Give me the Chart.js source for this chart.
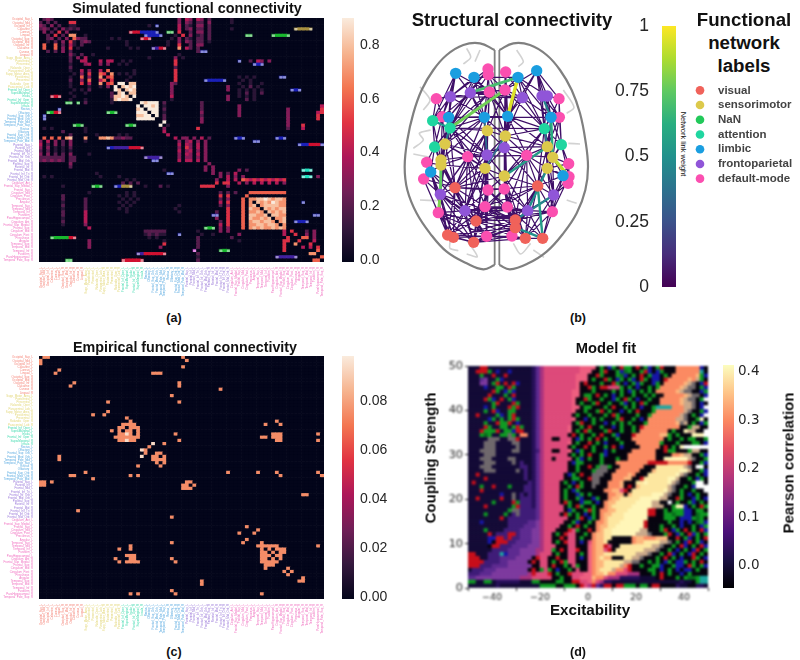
<!DOCTYPE html>
<html>
<head>
<meta charset="utf-8">
<title>Connectivity panels</title>
<script src="https://cdn.jsdelivr.net/npm/chart.js@4"></script>
<style>
    html, body { margin: 0; padding: 0; background: #fff; }
    #page { position: relative; width: 800px; height: 660px; overflow: hidden; font-family: "Liberation Sans", sans-serif; }
    canvas { position: absolute; }
    .soft { filter: blur(0.7px); }
    .softer { filter: blur(0.9px); }
    .lbl { position: absolute; white-space: nowrap; color: #111; transform-origin: center; line-height: 1; }
</style>
</head>
<body>
<div id="page"></div>
<script>
// Region names along both axes of the two matrices
const visualLabels = ['Occipital_Sup_L', 'Occipital_Mid_L', 'Occipital_Inf_L', 'Calcarine_L', 'Cuneus_L', 'Lingual_L', 'Occipital_Sup_R', 'Occipital_Mid_R', 'Occipital_Inf_R', 'Calcarine_R', 'Cuneus_R', 'Lingual_R'];
const motorLabels = ['Supp_Motor_Area_L', 'Postcentral_L', 'Precentral_L', 'Rolandic_Oper_L', 'Paracentral_Lob_L', 'Supp_Motor_Area_R', 'Postcentral_R', 'Precentral_R', 'Rolandic_Oper_R', 'Paracentral_Lob_R'];
const attentionLabels = ['Frontal_Inf_Oper_L', 'SupraMarginal_L', 'Insula_L', 'Frontal_Inf_Oper_R', 'SupraMarginal_R', 'Insula_R'];
const limbicLabels = ['Rectus_L', 'Olfactory_L', 'Frontal_Sup_Orb_L', 'Frontal_Med_Orb_L', 'Temporal_Pole_Mid_L', 'Temporal_Pole_Sup_L', 'Rectus_R', 'Olfactory_R', 'Frontal_Sup_Orb_R', 'Frontal_Med_Orb_R', 'Temporal_Pole_Mid_R'];
const parietalLabels = ['Parietal_Sup_L', 'Parietal_Inf_L', 'Frontal_Mid_L', 'Frontal_Inf_Tri_L', 'Frontal_Inf_Orb_L', 'Frontal_Mid_Orb_L', 'Parietal_Sup_R', 'Parietal_Inf_R', 'Frontal_Mid_R', 'Frontal_Inf_Tri_R', 'Frontal_Inf_Orb_R', 'Frontal_Mid_Orb_R'];
const defaultLabels = ['Cingulum_Ant_L', 'Frontal_Sup_Medial_L', 'Frontal_Sup_L', 'Cingulum_Mid_L', 'Cingulum_Post_L', 'Precuneus_L', 'Angular_L', 'Temporal_Sup_L', 'Temporal_Mid_L', 'Temporal_Inf_L', 'Fusiform_L', 'ParaHippocampal_L', 'Cingulum_Ant_R', 'Frontal_Sup_Medial_R', 'Frontal_Sup_R', 'Cingulum_Mid_R', 'Cingulum_Post_R', 'Precuneus_R', 'Angular_R', 'Temporal_Sup_R', 'Temporal_Mid_R', 'Temporal_Inf_R', 'Fusiform_R', 'ParaHippocampal_R', 'Temporal_Pole_Sup_R'];

const networkNames = ['visual', 'sensorimotor', 'NaN', 'attention', 'limbic', 'frontoparietal', 'default-mode'];
const networkColors = ['#f0625a', '#dcc94b', '#22c95a', '#1fd6a0', '#1a9ee0', '#9055d8', '#fb4fb0'];

// Simulated FC, one string per row. Digit = value / 10, letters are the colour smears
const simRows = [
".232...... .......... .......... .......3.4 3.43.2.... .1",
"2.2.2...55 .......... .......... .......3.3 2.22.3.... .1",
"32.3.2..11 .......... .........1 .b.....4.2 1.33.2",
"232.2.3121 2......... .......... .......4.2 3.22.2.... .1........ ........oo ooo",
".3.2.5.3.. .......... ....rrrbbb bb..gg.5.. 2.33.2",
"..2.5.2.77 ..1....... ........bb bbb...1.5. 3.12.2.... .....gg... ..ggggg",
"..23.2.3.6 322......1 .1.....rrr .....1.3.2 1.22.2",
"..1.2.3.51 .232...... ...1...... ....1..3.3 2.22.1",
".6..6.2.41 .2........ ...1...... ....1..5.. 2.33",
".6..6.3.5. 1.......1. ....1.1... pprr...7.4 2.2",
"..2.2.3.2. .......... .......... .......... ..2bb",
"........31 .2..1..... .......... .......1",
"........2. 3.4....... .........1 ......3.1",
"........2. .44...4.44 ..1.1..... ......5... .......... ...b..2.43 .3",
"........1. ..34..3.3. .1.1...... ......5... .......... .......bbb",
"........2. .......... .......... ......2...",
"........1. .4.3..4.6. .....1.... ......5...",
".........1 .3.5..65.7 .1.1.1.... ......5...",
"........1. .6.3..7.56 ....1..... ......5... .......... ...1.1.1.. ....bb",
"........2. .3.6..46.5 ...1...... ......5... ....bbbbbb ....1.1...",
"........1. .5.4..7.56 .99.88.... .....32... .......... ...1..1..1",
"........1. ...1..1.3. 9.8989.... .....3.... .......... 3...1.2.1.",
".........1 .1.2...... 98.898.... .....3.... .......... 3..1.1.1.1 .......bbb",
"........1. ..1......2 .89.88.... .....3.... .......... ...1.2.1.2",
"...rrr...1 .........2 8898.9.... .....4.... .......... 3..1.1.1..",
"........1. ..1......1 89889..... .....1.... .......... 3....2.1",
".......gg. g.2......1 .......989 99.2...... ...2",
".......... .......... ......9.99 89.1...... ...2...... ...3...... .......... .....4",
".....b.... .......... ......89.9 99.2...... ...2...... ...3...... ......3... .....5",
"..ggrr.... ........gg g.....999. 99.1...... ...3...... ...3...... ......3... ....45",
".b........ .......... ......8899 .9.2...... ...2...... ...3...... ......3... ....5.",
".b........ .......... ......9999 9..2...... ...3...... .......... ......3... ....5.",
".......... .......... .......... ...9...... ...3...... .......... ......3...",
".........g gg........ ...ggg.... ..9.1..... .......... .......... ......3... 5",
".1.1...... ..1....... .......... ...3...... ..5....... .......... ......2... 4",
"......2... ..1....... .......... ...4......",
"........2. .....1.... .1.1...... ....4.....",
".6.6.6.78. ..7...7787 22322..... ......4.33 .3.4.2.... ..bbb..... ...bbb....",
"3.4.3.2.3. ..1....... .......... .......3.3 4.3.3..... .......bb.",
"4.2.3.2.3. .......... .......... .......4.4 3.4.3..... .......... .........b bbrrrb",
"3.3.1.1.2. ........bb pppprrrr.. .......3.5 3.4.3",
"2.2.1.1.1. .......... .......... .......4.3 4.3.3",
"3.3.2.2.3. ...1...... .......... .......3.4 3.4.3",
"2222222.22 .......... ........pp ppp....3.3 3.3.3",
"2323232.22 .......... .......... bb.....4.4 4.4.3",
"........3. .......... .......... .......... .....3....",
"........2. .......... .......... .......... ....3.3...",
".......... .......... .......... ...1...... ....3.3... ...3.2.... .......... ttt",
".......... .....1.... .......... ....bb.... ......3.3. 2.4.......",
".1.1...... ......1... .1........ .......... ........3. 4.3.3..... .......... ttt.3",
".......... .......... ...1.1.... .......... .......3.. 4.4.654545 454545....",
".......... .......... ..2.2.2... .......... .......5.5 5..4.3.4.4 .4.4.3",
"......1... ....ggg... bbooo...1. ..2.1..... ...5555... 3.........",
".......... .......... .......... .......... .......... ..........",
".......... ...1...... ...1.1.... .......... ........2. 2.2...6666 666666",
"......2... .......... .1.1.1.... .......... ........5. 5....6....",
"......2... ..2....... ..1.1.1... .......... ........2. 3...6.7788 987887",
"......1... ..2....... .1.1.1.... .......... ........4. 5...6.7.87 879877.... b",
"......2... ..2....... ..1.1..... .......1.. ........2. 3...6.78.7 888877",
"......1... ..2....... .1.1...... ......1... .......... 5...6.877. 878788",
"......2... ..4....... ...1...... .......1.. .......2.. 5...6.7787 .87878",
"......2... ..4....... .......... .......... ......bb.. 5...6.8877 8.8877.... ...bb",
"......1... ..4....... .......... .......... .......3.. 5...6.8778 78.778",
"......2... ..4....... .......... .......... ........2. 5...6.7887 887.78..bb bb",
"......1... ..3....... .......... .......... ........4. 5...6.7788 7887.7",
".......... ...4...... .......... .......... ....ggg.3. 3...6.7878 778787",
".......... .......... ........22 2222...... ..1.....3. 3......... .....4.5.. .2.3",
".......... .......... ........12 1211...b.. ...1..1... ...3...... .....4..5. .3.3",
"...gggggrr .......... .........1 .1........ ..2....... .2........ ......5... 66.3",
".......... ...3...... .......... ...1...... ..2....... ...1...... .....55..5 ...4",
".......... ...3...... .......... ...5...... ..2....... .......... .....5..7. ..5",
".......... ...3...... .......... ..3....... ..2....... .......... .....5.... 4.4.5",
".......... .......... .......... .......... .m......gg g......... .....5.... ....6.",
".......... .......... ......pprr rrrr...... ..2....... .......... .......... ..77..",
".......... .......... .......... .......... ..1....... .......... ...pppppp. .....6",
".......gg. .......... ..rrrrrr.. .......... ..2....... .......... .......... ...66."
];

// Empirical FC: the few cells above threshold, [row, [columns]]
const empHits = [
    [0, [1, 2, 38]], [1, [0, 39]], [2, [0]], [3, [38]], [4, [5]], [5, [4, 30, 31, 32]], [8, [9, 37]], [9, [8, 37]],
    [10, [48]], [12, [35]], [14, [18, 37]], [17, [18]], [18, [14, 17]], [19, [23]], [20, [24, 63]],
    [21, [22, 23, 24, 25, 60, 64]], [22, [21, 22, 24, 25, 26]], [23, [19, 21, 23, 24, 26]],
    [24, [21, 22, 24, 26, 36, 62, 63, 64, 74]], [25, [20, 21, 22, 23, 24, 25, 26, 59, 60, 62, 63, 64]],
    [26, [21, 22, 24, 25, 37, 63, 64, 74]], [27, [30, 33]], [28, [29]], [29, [27, 28]], [30, [28, 31, 32]],
    [31, [5, 27, 30, 31, 33]], [32, [5, 30, 31, 32, 33]], [33, [31, 33]], [34, [26, 32]], [36, [12, 50, 58, 63, 74]],
    [37, [8, 9, 24, 26, 64, 75]], [38, [14]], [39, [0, 1, 3, 39, 40]], [40, [0, 1, 38, 39, 41]], [41, [38, 39, 40]],
    [43, [70, 71]], [48, [10]], [50, [35]], [53, [55]], [54, [58]], [55, [53, 57]], [57, [55]], [58, [35, 54, 59]],
    [59, [24, 58, 59, 60, 61, 62, 63, 74]], [60, [21, 24, 59, 61, 63, 64, 65]], [61, [59, 60, 62, 64, 65]],
    [62, [23, 24, 25, 59, 60, 61, 63, 64]], [63, [20, 24, 25, 35, 59, 60, 62, 64]], [64, [21, 23, 24, 25, 26, 36, 59, 60, 61, 62, 63]],
    [65, [60, 61, 62]], [66, [60, 66]], [67, [65, 67]], [68, [66]], [69, [70]], [70, [43, 69, 70]], [71, [43]],
    [73, [35]], [74, [24, 26, 36, 59]]
];
const empCreamCells = [[27, 30], [29, 27], [31, 27], [26, 23], [24, 23]];
const empValue = 0.075;
const empCreamValue = 0.094;

// Model fit grid, top row is coupling 50, 60 columns over excitability -50..50
const fitRows = [
"nnnrrnnnnn nnnnnnvpMh hhhhhhhhHH HHkgkbgkrg gkrkgbkgrk kkoooooobk",
"nnrrrgnbnn bnnnnnvpMh hhhhhhhhHH HkkgrkkgbG gkkgrbkbgk kkooooootk",
"nnngnnrnnr nnnnnnvpMh hhhhhhhHHH kkrgkkkgGb kgkrkgbbkg koooooolgb",
"nnnpPnngbn nnnnnnvpMh hhhhhhhHHH kgkkrgkbgk gbkrgkbbkr oooooloegk",
"nnnPPngrnr nrbnnnvpMh hhhhhhhHkr kkkgkkrgkb kgbgkkbgko ooooleakbr",
"nnnnbnnggn rgnnnnvpMh hhhhhhhHkk rgkrrhhhgk gkbkkgkgoo oooleaakgb",
"nnnnnnrgnb gbnnnnvpMh hhhhhhHHkk kgkkkkgkgk bgkgkgkooo ooleaakkbg",
"nnnnnrnnng nrnnnnvpMh hhhhhhHHkg gkrkgkbkgk kgkkgkgkko ooooleaakb",
"nnnnrgbnrn gbnnnnvpMh hhhhhhHkkr gkkgkkbgkr gkbkkgkkoo oooleaakgw",
"nnnnnngrnn nrgnnnvpMh hhhhhhHkgk kgrkkgkkgb kgkrgkkkoo oooleeakbk",
"nnnnbngnnn rgrnnnvpMh hhhhhhHHkg gkkkgkrkkg kgkbkkgttt toooeeakbw",
"nnnngnrbnn ggnnnnvpMh hhhhhhHkkg kkgrkgkkbk gkrkkkgooo ooooeakkgb",
"nnrnnnngbn grnnnnvpMh hhhhhhkgkk gkkkgkrgkk kkgkkgoooo oooeakgkbw",
"nnnnnbgngn grgnnnvpMh hhhhhhHkkb kgkgkkkgrk kgkbkooooo ooeeakkgyk",
"nnnngnnrgg rnbnnnvpMh hhhhhhkgrk kgkkbkgkgk gkkkgooooo oolaekgkbg",
"nnnnrgnngg ngrgnnvpMh hhhhhHkkgk rkkgkkbkgk kgkroooooo oookkgeekk",
"nnnrgggrng gbrrnnvpMh hhhhhHkgkr gkkkgrkkgk kgkooooooo kgkkyeekkw",
"nnngGgnngg agnoonvpMh hhhhhkrkgk kgkrkkgbkk krooooooll gkgkkkyyyw",
"nnnnnaaann aarnnnvpMh hkkhhhkbgk gkrkgkkgkk kooooooook gkkgkggkkg",
"nnnnaaannn naannnvpMh hhhhhHkgkk rkgkbkkkgk kkoooooogk kkgkkkggkb",
"nnnnaaannn nnannnvpMh hhhhhkgkkr kgkkgkrkbk kkkoooookr kgkywwwwww",
"nnnaaaannn naannnvqMh hkkhhHkbgk kgkkbkgkkk kooooookkr ggkkkgeekk",
"nnnnaaannn nnnnnnvpMh hhhhhkgkgk rkkgbkkkkk oooooookkk kooleekkgb",
"nnnaaannnn aannnnvpMh hkhhhhkgbk gkkgkkkgkk oooooookky yyyyyeakkg",
"nnnnaaannn nanqnnvpMh hhhhhkbggk kkkgkkkooo ooooorrrrr ooooorkkgb",
"nnnaaannnn nnnqqnvpMh hhhhhkkgkk rkgaagkkoo ooookkkccc cccceakwwk",
"nnnnaaannn nnanqnvpMh hhhhhkkgkk kgaaakkooo oookkklccc cccyyekkgb",
"nnrnnnnnnn nnnnqnvpMh hhhhkbgkrk kaaakkoooo lokkkccccc ccyeakkgkb",
"nnnnrnnnnn nnnnqnvpMh hhhhkkggkk raakkkoool lkkrcccccc yyekkgkbgk",
"nrnnnnnnnn nnnnnqvpMh hhhkgkbkgk kaakkooolk kkccyccccc yeakkkgwwk",
"nnngnnrnnn gnnnqqvpMh hhhkkgkrgk kakkkooolk rklccccccc eakkgkbwww",
"nnnrnnnnnn nnnnqqvpMh hhhkgkbgkk kkkkoollhr kccccccccy eakgkkgkkw",
"nnnnnnnnbn nanqnqvpMh hhhkgkkbgk gkkkkoollk lcccccyyye akkgkbkgkk",
"nnrnnnnnrn nanqqqvpMh hhhkgkkgbk kbgkkollcc cccyyyyyee kkrgkkbgkb",
"nnnnnngnnn nrgqqqvpMh hhhkrgkkbg gkbkollccc ccyyyyeekk wkgkkgbkgk",
"nnnnrnnnnn ngrqqqvpMh hhhhkgkrgk kgkkolcccc cyyyyyeeek kgyybkgkrg",
"nnnnnnnnnn gaaqqqqpMh hhhhkbgkkg rgkoollccc yyyyyrrkkg kgggbbkggk",
"nnnngnnnng nqaqqqqpMh hhhkrgkgkb kgkollcccy yyyyyrrkkg gGggbbkGgg",
"nnnnnnnnrn qqqqqqqpMh hhhhhkkgrk bgkolccccy yyyyykkkkg ggkbbbgGgk",
"nnnbnnnnnn qqqqqppPMh hhhhkkgbkk gkoolcccyy yyyyrkkkkk gkkbkbkGgb",
"nnnnnnnnnn qqqqpppPMh hhhkkgkrkg kkollccyyy yyyyrkkkgk kgkbkkgkbg",
"nnnngnnnnq qqqpppPPMh hhkkkrhgkk rkolccyyyy yyyeekkkgr kbgkrkgkrb",
"nnnnnrnqqq rrqpppPPMh hkgkrhhkkg kollccyyyy yyeeeakkkg rkbgkrbgkg",
"nnnnnbbrrq rqqpppPPMh hkkrkhhkgk kollcckkkk kollooolll kkrkgbkgkr",
"nnnnnbkrrr qqppppPPMh hkgkrhhkbk hollckkkkk kollccccee akgkbrkgbk",
"nnnnnkrrqq qppppPPPMh hhkkkhhkkk Hollrhkkcc cccccceeak kgkrbkgkrb",
"nnnnnnqqqq pppPPPPMMh hgkrkhhrkk Hollhrkccc cccceeeakk gkbkgkbrkg",
"rrnnnqqqtb pppPPPPMhh hkgkkhhkgk Hollcccccc cceeeakkgk rbkgkbrkgk",
"rrrnnqqqpp ppPPPPkrhh kkrkkhhkbk Holcllkkkc ceeakkkgkr kgkbkkrgkb",
"rrrrqqqqpp PPPPPkrkhh kgkrghhkkk Hollccccce eaakkgkgkb gkbbgkgkrk",
"rrrqqqpppp PPPPPPkkhh krkkgkhgkk Hollcccceo rkkgkkggbk kgbbkrgkgb",
"nqqqpppPPP PPPPPkrkgh gkbkkgkhkk Holccceooh rkkkkggkbk gkbkbbkgkk",
"qqqpppPPPP PPPPPMrhhh rkgkkrhhhH Hollcoohhh MMMkkkgkrk gkkbkgkkkk",
"ppPPPPPPPP PPPMMMhhhh hkkgkkhhHH HloohMMMvv vvvnnnnkrk kkgkgGGgtt",
"ggnnggnvvv vvvnnnggkk kkggkkrrhh HohMvvnnnn nnnnnnnnnn nnnvnnkgtt",
"nnnnnnnvnn nnnnnnnngg ggkkgggkrh Mrpvrrkrrg ggkggkrrkk kkvnnkkvvn"
];
const fitXTicks = [-40, -20, 0, 20, 40];
const fitYTicks = [0, 10, 20, 30, 40, 50];

// Brain nodes, in the panel's own units (x 0..600, y 0..900)
const visualNodes = [[165, 563], [413, 558], [228, 663], [346, 660], [346, 683], [143, 705], [160, 712], [221, 727], [376, 715], [428, 715]];
const motorNodes = [[135, 432], [262, 392], [316, 408], [123, 480], [123, 495], [255, 505], [313, 528], [442, 440], [458, 472], [442, 505]];
const attentionNodes = [[98, 362], [150, 384], [104, 441], [433, 386], [484, 434]];
const limbicNodes = [[167, 220], [222, 232], [354, 232], [410, 212], [146, 352], [253, 352], [323, 349], [453, 352], [92, 516], [489, 527]];
const parietalNodes = [[151, 290], [211, 278], [367, 293], [426, 288], [442, 288], [261, 465], [313, 443], [121, 583], [461, 585], [195, 632], [383, 632]];
const defaultNodes = [[264, 207], [265, 224], [317, 216], [268, 276], [315, 270], [109, 296], [477, 296], [127, 350], [478, 352], [203, 470], [380, 466], [80, 487], [506, 491], [71, 537], [507, 530], [504, 550], [264, 570], [313, 567], [255, 620], [322, 621], [115, 638], [457, 635], [260, 709], [336, 708]];

// Weak links as node index pairs (indexes run through the node lists above in order)
const weakEdges = [
    [25,35],[25,36],[25,29],[25,49],[26,36],[26,49],[26,30],[26,35],[26,21],[46,36],[46,35],[47,49],[47,50],[48,50],[48,37],[48,31],[27,37],[27,50],[27,31],[27,32],[27,39],[28,38],[28,37],[28,32],[28,50],[28,31],
    [35,21],[35,29],[35,53],[35,30],[35,51],[36,30],[36,21],[36,49],[36,11],[49,30],[49,31],[49,11],[49,50],[50,31],[50,12],[50,37],[37,31],[37,23],[37,12],[37,32],[38,32],[38,23],[39,54],[39,23],[39,52],[52,24],[52,32],
    [21,10],[21,11],[21,55],[21,13],[21,40],[29,10],[29,55],[29,30],[53,10],[20,22],[20,13],[22,10],[22,13],[10,55],[10,15],[10,0],[10,42],[11,40],[11,55],[11,15],[30,40],[30,55],[30,15],[30,21],[13,0],[13,42],[14,33],[14,42],[14,0],[33,42],[33,0],[33,59],[57,33],[59,42],[59,66],[57,14],[42,66],[42,0],[42,44],[42,5],[42,6],[66,5],[66,6],[66,44],[66,2],
    [0,44],[0,2],[0,15],[0,5],[0,6],[0,62],[55,0],[55,44],[55,62],[55,42],[40,62],[40,64],[40,15],[15,62],[15,64],[15,44],[15,2],[62,64],[62,2],[62,44],[64,2],[64,44],[64,68],[64,7],[44,2],[44,5],[44,6],[44,7],[44,68],[2,7],[2,68],[2,5],[68,7],[5,7],[6,7],
    [12,41],[12,56],[12,16],[12,63],[31,41],[31,56],[31,23],[31,17],[41,16],[41,56],[41,63],[23,17],[23,56],[23,19],[23,24],[32,17],[32,23],[32,24],[54,24],[17,18],[17,19],[17,56],[18,19],[18,58],[18,34],[19,1],[19,34],[19,60],[19,43],[24,58],[24,18],[58,60],[58,34],[34,61],[34,43],[60,43],[56,1],[56,16],[56,45],[56,63],[16,63],[16,45],[16,1],[16,65],[63,65],[63,45],[65,45],[65,3],[65,69],[1,45],[1,43],[1,67],[1,8],[1,9],[1,3],[43,67],[43,9],[43,45],[67,9],[67,8],[67,45],[45,3],[45,4],[45,8],[45,9],[3,4],[3,8],[3,69],[4,69],[4,8],[69,8],[8,9],
    [62,63],[64,65],[68,69],[2,3],[2,4],[7,69],[40,41],[15,16],[11,12],[30,31],[49,12],[50,11],[35,37],[36,37],[26,27],[55,56],[21,23],[29,32],[7,4],[64,4],[65,2],[44,3],[62,16],[63,15],[11,41],[12,40],
    [25,53],[25,20],[46,29],[47,30],[47,21],[36,53],[36,29],[49,21],[49,10],[49,40],[30,10],[30,13],[30,0],[30,62],[11,0],[11,62],[11,42],[11,44],[21,15],[21,0],[21,42],[21,62],[29,13],[29,40],[53,13],[53,22],[51,20],[51,53],[51,35],[35,20],[20,29],[20,21],[22,21],[22,33],[22,14],[10,13],[10,14],[10,40],[13,55],[14,55],[14,15],[33,0],[57,22],[59,33],[59,0],[13,44],[14,44],[33,44],[33,5],[33,6],[59,5],[42,2],[42,7],[42,68],[66,7],[66,68],[0,7],[0,68],[0,64],[55,15],[55,2],[55,64],[40,55],[40,0],[40,44],[40,2],[15,7],[15,68],[62,7],[62,68],[64,5],[44,62],[5,68],[6,68],
    [27,12],[27,23],[27,41],[28,23],[28,39],[28,52],[48,12],[50,41],[50,23],[31,12],[31,16],[31,63],[12,17],[12,23],[12,65],[41,17],[41,65],[41,1],[23,18],[23,16],[23,1],[32,18],[32,19],[32,56],[54,17],[54,18],[52,54],[38,54],[39,32],[17,16],[17,1],[17,43],[18,1],[18,43],[18,56],[19,56],[19,45],[19,67],[24,19],[24,60],[58,19],[34,1],[34,67],[60,67],[61,43],[56,65],[56,3],[56,43],[16,3],[16,69],[16,8],[63,3],[63,8],[63,69],[65,8],[65,4],[65,9],[1,4],[1,69],[43,8],[43,3],[67,3],[45,69],
    [29,31],[30,12],[11,50],[35,50],[36,50],[26,31],[47,31],[55,41],[40,12],[40,16],[15,63],[15,41],[0,63],[0,16],[2,65],[44,65],[44,45],[7,3],[7,8],[68,4],[68,3],[68,8],[64,3],[62,65],[63,64],[5,4],[6,3],[2,69],[64,69],[62,3],[63,2],[42,3],[1,2],[1,64],[1,62],[45,64],[45,2],[67,2]
];
// Strong links: from, to, weight
const strongEdges = [
    [21,50,0.78],[36,27,0.7],[31,27,0.95],[32,18,0.62],[18,60,0.9],[1,9,0.55],[16,17,0.55],[45,19,0.5],[3,43,0.45],[14,42,0.75],[42,66,0.8],[4,9,0.5],[38,32,0.45],[20,21,0.5],[30,40,0.35],[15,12,0.35],[10,21,0.4],[23,17,0.4]
];

// Brain outline and sulci polylines
const brainLeft = [[284,150],[240,130],[190,135],[140,165],[100,210],[65,270],[40,340],[22,420],[14,500],[22,570],[50,640],[90,700],[140,755],[200,790],[250,808],[284,795]];
const brainRight = [[298,150],[340,130],[390,135],[440,165],[480,210],[515,270],[540,340],[556,420],[564,500],[556,570],[530,640],[490,700],[440,755],[385,790],[330,808],[298,795]];
const brainMidline = [[284,150],[284,795],null,[298,150],[298,795]];
const sulci = [
    [200,145],[212,172],[190,192],null,[240,150],[225,185],null,[350,150],[370,185],[355,200],null,[40,445],[70,420],[58,400],[92,390],null,[40,462],[92,472],null,
    [505,430],[540,432],null,[490,270],[522,322],[500,340],null,[60,600],[110,602],null,[150,725],[150,745],[175,752],null,[200,720],[232,770],[200,762],null,
    [340,730],[362,762],[392,730],null,[400,750],[432,772],null,[60,260],[90,300],[70,330],null,[500,600],[530,610]
];

// Colour ramps used by the heatmaps and colour bars
const rocketStops = ['#03051a', '#35193e', '#701f57', '#ad1759', '#e13342', '#f37651', '#f6b48f', '#faebdd'];
const magmaStops = ['#000004', '#1a1042', '#4a1079', '#7e2482', '#b5367a', '#e55064', '#fb8861', '#fec488', '#fcfdbf'];
const viridisStops = ['#440154', '#472d7b', '#3b528b', '#2c728e', '#21918c', '#28ae80', '#5ec962', '#addc30', '#fde725'];

const smearColors = { g: '#18b82e', b: '#1a20b8', r: '#d01030', t: '#20e0c0', o: '#a89040', m: '#d020d0', p: '#4020a0' };
const fitColors = {
    k: '#06040f', n: '#130a36', v: '#27105a', q: '#3f1c78', p: '#5d2a90', P: '#7d3a9e', M: '#a8327f', h: '#dd4a7a', H: '#ee5f80',
    o: '#fb8a62', l: '#fdb67c', c: '#fde7a0', y: '#fff6b8', e: '#c9a88a', a: '#6f686c', w: '#ffffff',
    g: '#0e9a22', G: '#086a1c', b: '#1616a8', r: '#c80e1a', t: '#1fa6a0'
};

const labelColors = [['#f58478', 12], ['#e3d77a', 10], ['#3fd9ae', 6], ['#5aaae0', 11], ['#9a78d8', 12], ['#f070c0', 25]];
const regionLabels = [].concat(visualLabels, motorLabels, attentionLabels, limbicLabels, parietalLabels, defaultLabels);
const regionColors = [];
labelColors.forEach(([color, count]) => { for (let i = 0; i < count; i++) regionColors.push(color); });

const page = document.getElementById('page');
const BASE_FONT = '"Liberation Sans", sans-serif';

// Interpolate a colour out of a list of equally spaced stops
function rampColor(stops, t) {
    const clamped = Math.min(1, Math.max(0, t)) * (stops.length - 1);
    const i = Math.min(stops.length - 2, Math.floor(clamped));
    const f = clamped - i;
    const a = parseInt(stops[i].slice(1), 16);
    const b = parseInt(stops[i + 1].slice(1), 16);
    const mix = shift => Math.round(((a >> shift) & 255) * (1 - f) + ((b >> shift) & 255) * f);
    return `rgb(${mix(16)},${mix(8)},${mix(0)})`;
}

function addCanvas(left, top, width, height, softClass) {
    const canvas = document.createElement('canvas');
    canvas.width = width;
    canvas.height = height;
    canvas.style.cssText = `left:${left}px;top:${top}px;width:${width}px;height:${height}px`;
    if (softClass) canvas.className = softClass;
    page.appendChild(canvas);
    return canvas;
}

// Loose text placed by its centre
function addLabel(text, cx, cy, font, rotate) {
    const el = document.createElement('div');
    el.className = 'lbl';
    el.textContent = text;
    el.style.left = cx + 'px';
    el.style.top = cy + 'px';
    el.style.font = font;
    el.style.transform = `translate(-50%, -50%) rotate(${rotate || 0}deg)`;
    page.appendChild(el);
}

// Axis box of a fixed size, without the extra room Chart.js keeps for end labels
function fixAxis(scale, size) {
    if (scale.isHorizontal()) scale.height = size;
    else scale.width = size;
    scale.paddingTop = scale.paddingBottom = scale.paddingLeft = scale.paddingRight = 0;
}

const baseOptions = {
    responsive: false,
    animation: false,
    events: [],
    plugins: { legend: { display: false }, tooltip: { enabled: false } }
};

// Matrix heatmap: every cell is a floating bar on a reversed row axis
function drawMatrix(top, plotHeight, colorOf) {
    const n = regionLabels.length;
    const cells = [];
    const colors = [];
    for (let r = 0; r < n; r++) {
        for (let c = 0; c < n; c++) {
            cells.push({ x: c + 0.5, y: [r, r + 1] });
            colors.push(colorOf(r, c));
        }
    }
    const regionTicks = scale => { scale.ticks = regionLabels.map((_, i) => ({ value: i + 0.5 })); };
    const tickText = value => regionLabels[Math.floor(value)];
    const tickColor = ctx => regionColors[ctx.index];
    new Chart(addCanvas(0, top, 330, 18 + plotHeight + 43, 'soft'), {
        type: 'bar',
        data: { datasets: [{ data: cells, backgroundColor: colors, barThickness: 285 / n }] },
        options: {
            ...baseOptions,
            layout: { autoPadding: false, padding: { top: 18, right: 6 } },
            scales: {
                x: {
                    type: 'linear', min: 0, max: n, offset: false,
                    grid: { display: false, drawTicks: false }, border: { display: false },
                    afterBuildTicks: regionTicks,
                    afterFit: s => fixAxis(s, 43),
                    ticks: { autoSkip: false, minRotation: 90, maxRotation: 90, padding: 5, font: { size: 2.9, family: BASE_FONT }, color: tickColor, callback: tickText }
                },
                y: {
                    type: 'linear', min: 0, max: n, reverse: true,
                    grid: { display: false, drawTicks: false }, border: { display: false },
                    afterBuildTicks: regionTicks,
                    afterFit: s => fixAxis(s, 39),
                    ticks: { autoSkip: false, padding: 6, font: { size: 2.9, family: BASE_FONT }, color: tickColor, callback: tickText }
                }
            }
        }
    });
}

// Colour bar: one floating bar filled with the ramp, its axis carries the tick labels
function drawColorBar(box, min, max, tickValues, format, stops, font, side) {
    const canvas = addCanvas(box.left, box.top, box.width, box.height);
    new Chart(canvas, {
        type: 'bar',
        data: {
            datasets: [{
                data: [{ x: 0.5, y: [min, max] }],
                barThickness: box.barWidth,
                inflateAmount: 0,
                backgroundColor: ctx => {
                    const area = ctx.chart.chartArea;
                    if (!area) return '#000';
                    const grad = ctx.chart.ctx.createLinearGradient(0, area.bottom, 0, area.top);
                    stops.forEach((color, i) => grad.addColorStop(i / (stops.length - 1), color));
                    return grad;
                }
            }]
        },
        options: {
            ...baseOptions,
            layout: { autoPadding: false, padding: box.padding },
            scales: {
                x: { type: 'linear', min: 0, max: 1, offset: false, display: false },
                y: {
                    type: 'linear', min, max, position: side,
                    grid: { display: false, drawTicks: false }, border: { display: false },
                    afterBuildTicks: s => { s.ticks = tickValues.map(value => ({ value })); },
                    afterFit: s => fixAxis(s, box.axisWidth),
                    ticks: { autoSkip: false, padding: box.tickPad, font, color: '#262626', callback: format }
                }
            }
        }
    });
}

// Panel (a): a smear fades out at its two ends, where the next cell is no smear
const SIM_MAX = 0.9;
const simGrid = simRows.map(row => row.replace(/ /g, ''));
const isSmear = (r, c) => Boolean(smearColors[(simGrid[r] || '').charAt(c)]);
drawMatrix(0, 244, (r, c) => {
    const ch = simGrid[r].charAt(c) || '.';
    if (smearColors[ch]) {
        const tip = !isSmear(r, c - 1) || !isSmear(r, c + 1);
        return tip ? smearColors[ch] + '80' : smearColors[ch];
    }
    return rampColor(rocketStops, ch === '.' ? 0 : Number(ch) / 10 / SIM_MAX);
});

// Panel (c)
const EMP_MAX = 0.098;
const empGrid = {};
empHits.forEach(([r, cols]) => cols.forEach(c => { empGrid[r + '_' + c] = empValue; }));
empCreamCells.forEach(([r, c]) => { empGrid[r + '_' + c] = empCreamValue; });
drawMatrix(338, 243, (r, c) => rampColor(rocketStops, (empGrid[r + '_' + c] || 0) / EMP_MAX));

// Colour bars of (a), (c), (b) and (d)
drawColorBar({ left: 342, top: 8, width: 58, height: 264, barWidth: 12, axisWidth: 46, tickPad: 6, padding: { top: 10, bottom: 10 } },
    -0.0075, 0.9, [0, 0.2, 0.4, 0.6, 0.8], v => v.toFixed(1), rocketStops, { size: 14, family: BASE_FONT }, 'right');
drawColorBar({ left: 342, top: 346, width: 58, height: 263, barWidth: 12, axisWidth: 46, tickPad: 6, padding: { top: 10, bottom: 10 } },
    -0.0008, 0.0984, [0, 0.02, 0.04, 0.06, 0.08], v => v.toFixed(2), rocketStops, { size: 14, family: BASE_FONT }, 'right');
drawColorBar({ left: 600, top: 14, width: 76, height: 285, barWidth: 14, axisWidth: 62, tickPad: 13, padding: { top: 12, bottom: 12 } },
    0, 1, [0, 0.25, 0.5, 0.75, 1], v => String(v), viridisStops, { size: 17.5, family: BASE_FONT }, 'left');
drawColorBar({ left: 723, top: 355, width: 60, height: 243, barWidth: 11, axisWidth: 49, tickPad: 4, padding: { top: 10, bottom: 10 } },
    -0.0454, 0.4144, [0, 0.1, 0.2, 0.3, 0.4], v => v.toFixed(1), magmaStops, { size: 13.5, family: '"DejaVu Sans", sans-serif' }, 'right');

// Panel (b): brain drawn on a scatter chart
const nodeGroups = [visualNodes, motorNodes, attentionNodes, limbicNodes, parietalNodes, defaultNodes];
const nodeGroupColors = [networkColors[0], networkColors[1], networkColors[3], networkColors[4], networkColors[5], networkColors[6]];
const allNodes = [].concat(...nodeGroups);
const toPoint = p => (p ? { x: p[0], y: p[1] } : { x: NaN, y: NaN });
const linePath = (points, color, width, tension) => ({
    data: points.map(toPoint), showLine: true, pointRadius: 0, borderColor: color, borderWidth: width, tension: tension || 0, spanGaps: false
});
const weakPath = [];
weakEdges.forEach(([a, b]) => weakPath.push(allNodes[a], allNodes[b], null));

new Chart(addCanvas(400, 0, 200, 300), {
    type: 'scatter',
    data: {
        datasets: [
            ...nodeGroups.map((nodes, i) => ({ data: nodes.map(toPoint), pointRadius: 5.7, backgroundColor: nodeGroupColors[i], borderWidth: 0 })),
            ...strongEdges.map(([a, b, w]) => linePath([allNodes[a], allNodes[b]], rampColor(viridisStops, w), 1 + w * 2.5)),
            linePath(weakPath, '#3f0f68', 1.2),
            linePath(brainLeft, '#808080', 2.2, 0.4),
            linePath(brainRight, '#808080', 2.2, 0.4),
            linePath(brainMidline, '#808080', 1.8),
            linePath(sulci, '#d2d2d2', 1.6, 0.3)
        ]
    },
    options: {
        ...baseOptions,
        layout: { autoPadding: false, padding: 0 },
        scales: {
            x: { type: 'linear', min: 0, max: 600, display: false },
            y: { type: 'linear', min: 0, max: 900, reverse: true, display: false }
        }
    }
});

// Network legend: one dot per network, names are the tick labels of a category axis
new Chart(addCanvas(693, 83, 107, 103), {
    type: 'scatter',
    data: {
        labels: networkNames,
        datasets: [{
            data: networkNames.map(name => ({ x: 0, y: name })),
            pointRadius: 4.3,
            backgroundColor: networkColors,
            borderWidth: 0
        }]
    },
    options: {
        ...baseOptions,
        layout: { autoPadding: false },
        scales: {
            x: { type: 'linear', min: -1, max: 1, display: false },
            y: {
                type: 'category', labels: networkNames, offset: true, position: 'right',
                grid: { display: false, drawTicks: false }, border: { display: false },
                afterFit: s => fixAxis(s, 93),
                ticks: { autoSkip: false, padding: 11, font: { size: 11.5, weight: 'bold', family: BASE_FONT }, color: '#444' }
            }
        }
    }
});

// Panel (d): model fit grid
const fitCells = [];
const fitCellColors = [];
const FIT_COLS = 60;
fitRows.forEach((row, i) => {
    const chars = row.replace(/ /g, '');
    const stepY = 50 / fitRows.length;
    for (let c = 0; c < FIT_COLS; c++) {
        fitCells.push({ x: -50 + (c + 0.5) * 100 / FIT_COLS, y: [50 - (i + 1) * stepY, 50 - i * stepY] });
        fitCellColors.push(fitColors[chars.charAt(c)] || fitColors.k);
    }
});
const fitTickStyle = { size: 9.5, family: '"DejaVu Sans", sans-serif' };
new Chart(addCanvas(421, 340, 289, 270, 'softer'), {
    type: 'bar',
    data: { datasets: [{ data: fitCells, backgroundColor: fitCellColors, barThickness: 240 / FIT_COLS }] },
    options: {
        ...baseOptions,
        layout: { autoPadding: false, padding: { top: 26, right: 2 } },
        scales: {
            x: {
                type: 'linear', min: -50, max: 50, offset: false,
                grid: { drawOnChartArea: false, tickLength: 3, color: '#222' }, border: { display: false },
                afterBuildTicks: s => { s.ticks = fitXTicks.map(value => ({ value })); },
                afterFit: s => fixAxis(s, 22),
                ticks: { padding: 1, maxRotation: 0, font: fitTickStyle, color: '#222', callback: v => String(v).replace('-', '\u2212') }
            },
            y: {
                type: 'linear', min: 0, max: 50,
                grid: { drawOnChartArea: false, tickLength: 3, color: '#222' }, border: { display: false },
                afterBuildTicks: s => { s.ticks = fitYTicks.map(value => ({ value })); },
                afterFit: s => fixAxis(s, 47),
                ticks: { padding: 2, font: { size: 11.3, family: '"DejaVu Sans", sans-serif' }, color: '#222' }
            }
        }
    }
});

// Titles and panel tags
const bold = size => `bold ${size}px ${BASE_FONT}`;
addLabel('Simulated functional connectivity', 187, 8, bold(14.4));
addLabel('Empirical functional connectivity', 185, 347, bold(14.3));
addLabel('Structural connectivity', 512, 20, bold(18.5));
addLabel('Model fit', 606, 348, bold(14.7));
addLabel('Excitability', 590, 609, bold(15.2));
addLabel('Coupling Strength', 430, 458, bold(15), -90);
addLabel('Functional', 744, 20, bold(18.7));
addLabel('network', 744, 43, bold(18.7));
addLabel('labels', 744, 66, bold(18.7));
addLabel('Network link weight', 683, 144, `7.5px ${BASE_FONT}`, 90);
addLabel('Pearson correlation', 788, 463, bold(15), -90);
addLabel('(a)', 174, 318, bold(12.5));
addLabel('(b)', 578, 318, bold(12.5));
addLabel('(c)', 174, 652, bold(12.5));
addLabel('(d)', 578, 652, bold(12.5));
</script>
</body>
</html>
